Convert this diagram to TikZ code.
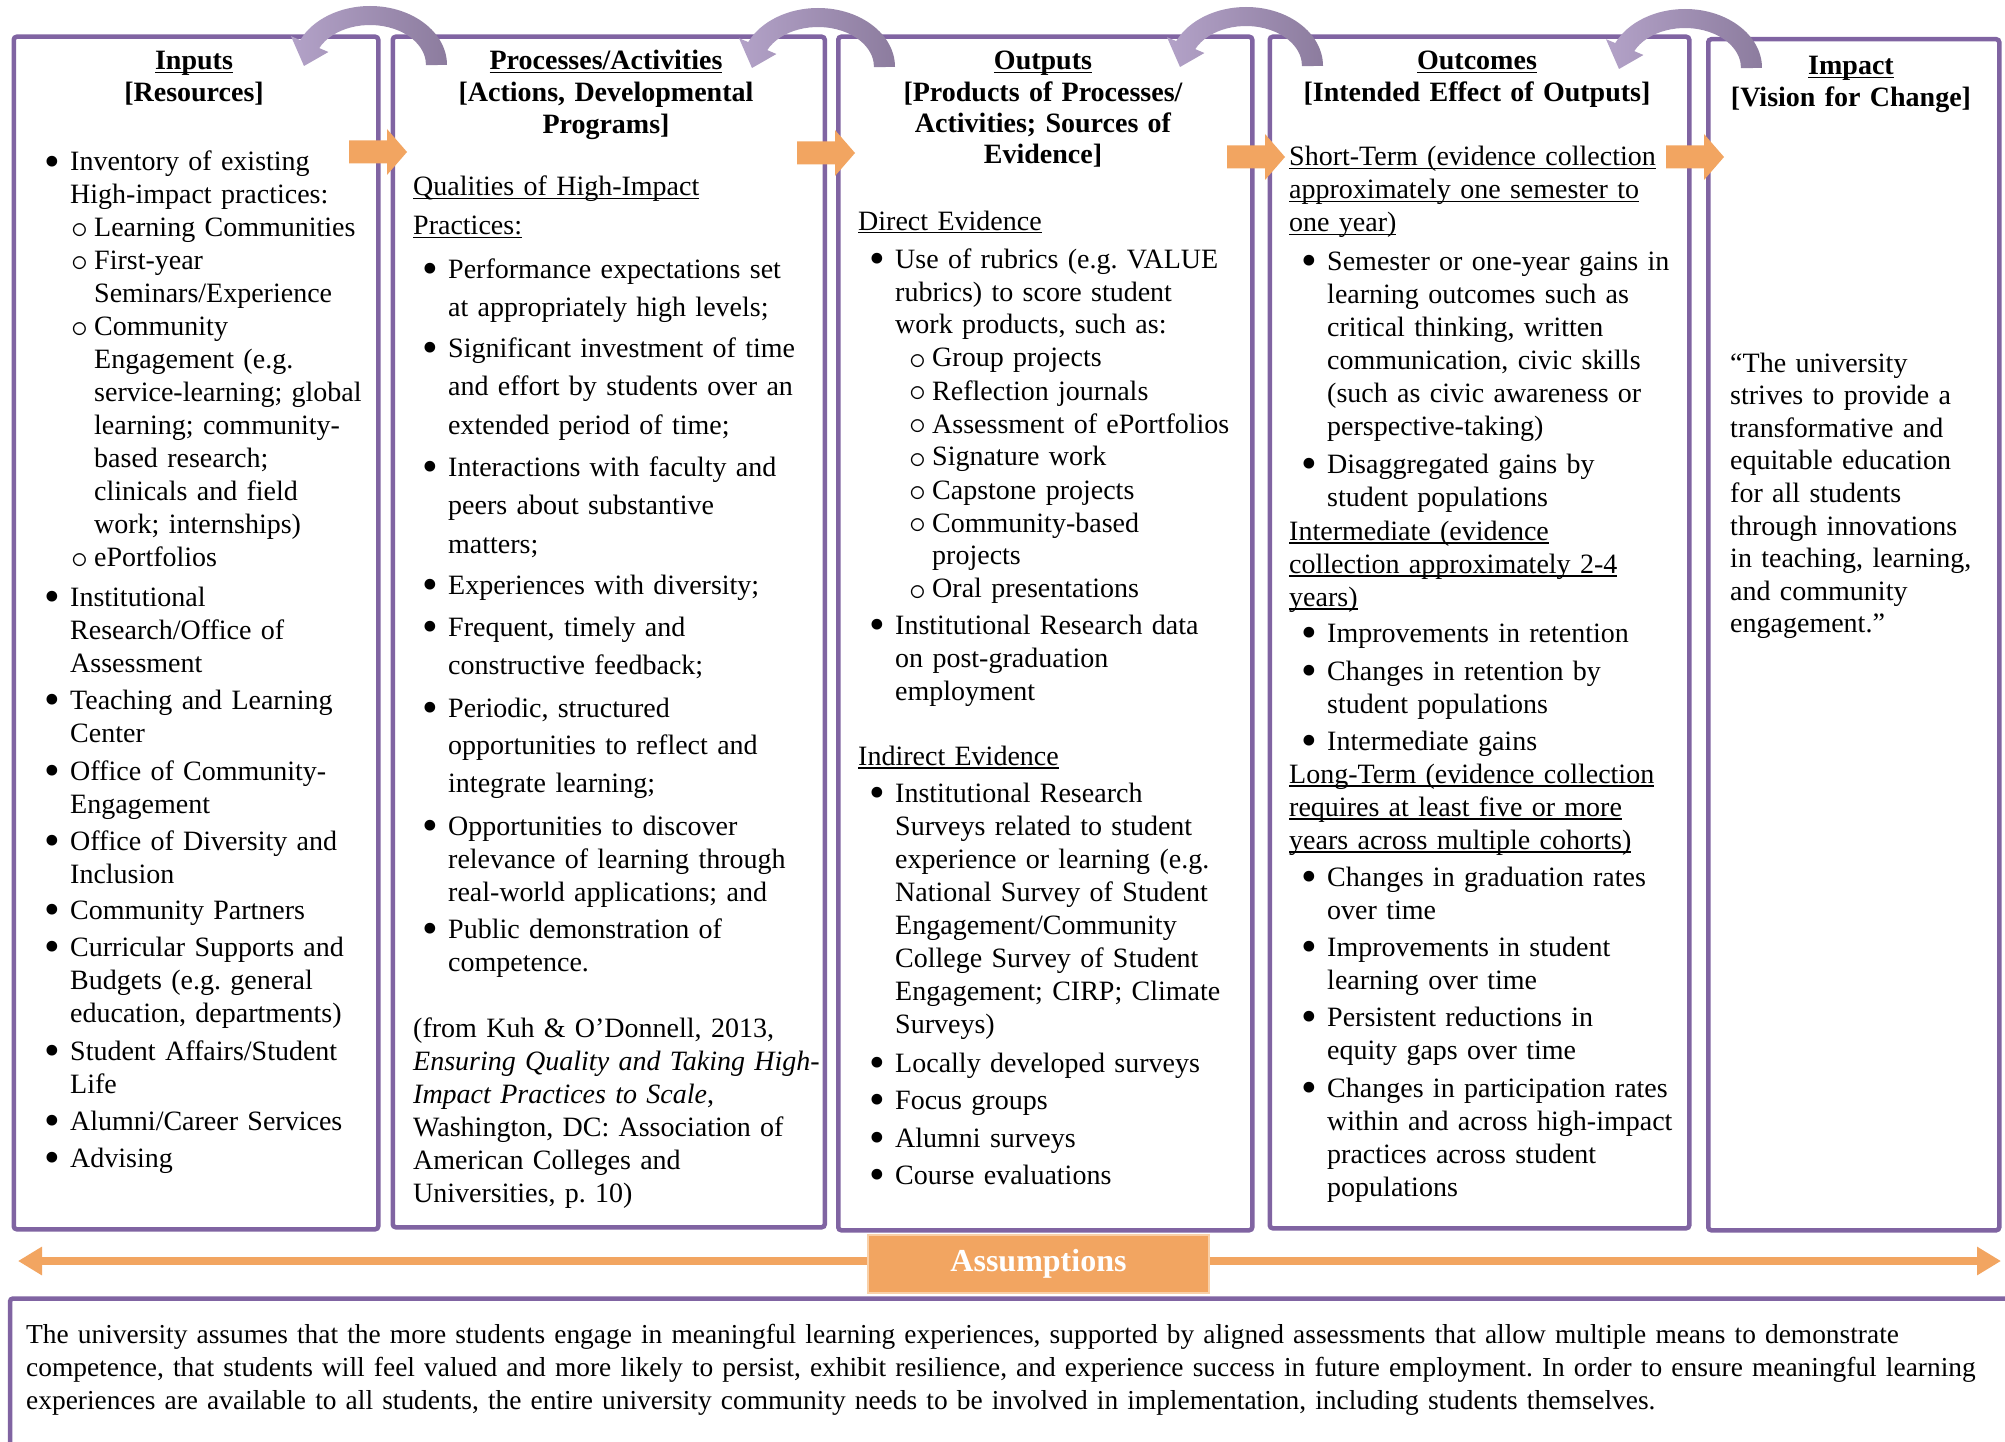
\documentclass[tikz,border=0pt]{standalone}
\usepackage{fontspec}
\setmainfont{Liberation Serif}
\usetikzlibrary{arrows.meta}
\definecolor{pur}{HTML}{8064A2}
\definecolor{orA}{HTML}{F2A561}
\definecolor{orL}{HTML}{F9D0A8}
\definecolor{pl}{HTML}{B3A2C8}
\definecolor{pd}{HTML}{8C7C9E}
\newcommand\ul[1]{\leavevmode\setbox0\hbox{#1}\rlap{\rule[-3.5pt]{\wd0}{1.3pt}}\box0}
\newcommand\bu{\leavevmode\llap{\makebox[26pt][l]{\smash{\raisebox{-5.5pt}{\scalebox{1.6}{\textbullet}}}}}}
\newcommand\sbu[1]{\leavevmode\hspace*{#1pt}\llap{\makebox[23pt][l]{\smash{\raisebox{-2pt}{\scalebox{1.35}{$\circ$}}}}}}
\newcommand\ci[1]{\leavevmode\hspace*{#1pt}}
\newcommand\barrow[2]{\fill[orA] (#1,#2-11.5) -- ++(38,0) -- ++(0,-11.5) -- (#1+58,#2) -- (#1+38,#2+23) -- ++(0,-11.5) -- (#1,#2+11.5) -- cycle;}
\newcommand\curvarrow[2]{%
\begin{scope}[shift={(#1,#2)}]
\shade[left color=pl, right color=pd] (77,0) arc[start angle=0,end angle=-155,x radius=77,y radius=59] -- (-79,-28.8) -- (-66,1) -- (-41.6,-13) -- (-50.75,-16.9) arc[start angle=-155,end angle=0,x radius=56,y radius=40] -- cycle;
\end{scope}}
\begin{document}
\frenchspacing
\begin{tikzpicture}[x=1pt,y=-1pt,
  pbox/.style={draw=pur, line width=4.5pt, rounded corners=3pt, anchor=north west, inner sep=0pt},
  txt/.style={anchor=base west, inner sep=0pt, text width=560pt, align=left, font=\fontsize{28}{33}\selectfont},
  ptxt/.style={txt, font=\fontsize{28}{38.6}\selectfont},
  hdr/.style={anchor=base, inner sep=0pt, text width=400pt, align=center, font=\fontsize{28}{32}\selectfont\bfseries}]
\useasboundingbox (0,0) rectangle (2005,1442);
\clip (0,0) rectangle (2005,1442);
\fill[white] (0,0) rectangle (2005,1442);

% boxes
\node[pbox, minimum width=364.5pt, minimum height=1192.5pt] (inputs) at (11.5,34.5) {};
\node[pbox, minimum width=432pt, minimum height=1190.5pt] (process) at (390.5,34.5) {};
\node[pbox, minimum width=414pt, minimum height=1193.5pt] (outputs) at (836,34.5) {};
\node[pbox, minimum width=419.5pt, minimum height=1191.5pt] (outcomes) at (1267.5,34.5) {};
\node[pbox, minimum width=291pt, minimum height=1191pt] (impact) at (1706,37) {};
\draw[pur, line width=4.5pt, rounded corners=3pt] (10,1470) -- (10,1298.5) -- (2040,1298.5);

% headers
\node[hdr] (h1) at (194,70) {\ul{Inputs}\\{}[Resources]};
\node[hdr] (h2) at (606,70) {\ul{Processes/Activities}\\{}[Actions, Developmental\\Programs]};
\node[hdr, font=\fontsize{28}{31.3}\selectfont\bfseries] (h3) at (1043,70) {\ul{Outputs}\\{}[Products of Processes/\\Activities; Sources of\\Evidence]};
\node[hdr] (h4) at (1477,70) {\ul{Outcomes}\\{}[Intended Effect of Outputs]};
\node[hdr] (h5) at (1851,75) {\ul{Impact}\\{}[Vision for Change]};

% inputs
\node[txt] (in1) at (70,171) {\bu Inventory of existing\\
High-impact practices:\\
\sbu{24}Learning Communities\\
\sbu{24}First-year\\
\ci{24}Seminars/Experience\\
\sbu{24}Community\\
\ci{24}Engagement (e.g.\\
\ci{24}service-learning; global\\
\ci{24}learning; community-\\
\ci{24}based research;\\
\ci{24}clinicals and field\\
\ci{24}work; internships)\\
\sbu{24}ePortfolios};
\node[txt] (in2) at (70,606) {\bu Institutional\\Research/Office of\\Assessment};
\node[txt] (in3) at (70,709) {\bu Teaching and Learning\\Center};
\node[txt] (in4) at (70,780) {\bu Office of Community-\\Engagement};
\node[txt] (in5) at (70,850) {\bu Office of Diversity and\\Inclusion};
\node[txt] (in6) at (70,919) {\bu Community Partners};
\node[txt] (in7) at (70,956) {\bu Curricular Supports and\\Budgets (e.g. general\\education, departments)};
\node[txt] (in8) at (70,1060) {\bu Student Affairs/Student\\Life};
\node[txt] (in9) at (70,1130) {\bu Alumni/Career Services};
\node[txt] (in10) at (70,1167) {\bu Advising};

% processes
\node[ptxt] (pq) at (413,196) {\ul{Qualities of High-Impact}\\\ul{Practices:}};
\node[ptxt] (pr1) at (448,278) {\bu Performance expectations set\\at appropriately high levels;};
\node[ptxt] (pr2) at (448,357) {\bu Significant investment of time\\and effort by students over an\\extended period of time;};
\node[ptxt] (pr3) at (448,476) {\bu Interactions with faculty and\\peers about substantive\\matters;};
\node[ptxt] (pr4) at (448,594) {\bu Experiences with diversity;};
\node[ptxt] (pr5) at (448,636) {\bu Frequent, timely and\\constructive feedback;};
\node[ptxt, font=\fontsize{28}{37.5}\selectfont] (pr6) at (448,717) {\bu Periodic, structured\\opportunities to reflect and\\integrate learning;};
\node[txt] (pr7) at (448,835) {\bu Opportunities to discover\\relevance of learning through\\real-world applications; and};
\node[txt] (pr8) at (448,938) {\bu Public demonstration of\\competence.};
\node[txt] (cite) at (413,1037) {(from Kuh \& O’Donnell, 2013,\\\textit{Ensuring Quality and Taking High-}\\\textit{Impact Practices to Scale},\\Washington, DC: Association of\\American Colleges and\\Universities, p. 10)};

% outputs
\node[txt] (od) at (858,230) {\ul{Direct Evidence}};
\node[txt] (o1) at (895,268) {\bu Use of rubrics (e.g. VALUE\\rubrics) to score student\\work products, such as:\\
\sbu{37}Group projects\\
\sbu{37}Reflection journals\\
\sbu{37}Assessment of ePortfolios\\
\sbu{37}Signature work\\
\sbu{37}Capstone projects\\
\sbu{37}Community-based\\
\ci{37}projects\\
\sbu{37}Oral presentations};
\node[txt] (o2) at (895,634) {\bu Institutional Research data\\on post-graduation\\employment};
\node[txt] (oi) at (858,765) {\ul{Indirect Evidence}};
\node[txt] (o3) at (895,802) {\bu Institutional Research\\Surveys related to student\\experience or learning (e.g.\\National Survey of Student\\Engagement/Community\\College Survey of Student\\Engagement; CIRP; Climate\\Surveys)};
\node[txt] (o4) at (895,1072) {\bu Locally developed surveys};
\node[txt] (o5) at (895,1109) {\bu Focus groups};
\node[txt] (o6) at (895,1147) {\bu Alumni surveys};
\node[txt] (o7) at (895,1184) {\bu Course evaluations};

% outcomes
\node[txt] (os) at (1289,166) {\ul{Short-Term (evidence collection}\\\ul{approximately one semester to}\\\ul{one year)}};
\node[txt] (oc1) at (1327,270) {\bu Semester or one-year gains in\\learning outcomes such as\\critical thinking, written\\communication, civic skills\\(such as civic awareness or\\perspective-taking)};
\node[txt] (oc2) at (1327,473) {\bu Disaggregated gains by\\student populations};
\node[txt] (om) at (1289,540) {\ul{Intermediate (evidence}\\\ul{collection approximately 2-4}\\\ul{years)}};
\node[txt] (oc3) at (1327,642) {\bu Improvements in retention};
\node[txt] (oc4) at (1327,680) {\bu Changes in retention by\\student populations};
\node[txt] (oc5) at (1327,750) {\bu Intermediate gains};
\node[txt] (ol) at (1289,783) {\ul{Long-Term (evidence collection}\\\ul{requires at least five or more}\\\ul{years across multiple cohorts)}};
\node[txt] (oc6) at (1327,886) {\bu Changes in graduation rates\\over time};
\node[txt] (oc7) at (1327,956) {\bu Improvements in student\\learning over time};
\node[txt] (oc8) at (1327,1026) {\bu Persistent reductions in\\equity gaps over time};
\node[txt] (oc9) at (1327,1097) {\bu Changes in participation rates\\within and across high-impact\\practices across student\\populations};

% impact
\node[txt, font=\fontsize{28}{32.6}\selectfont] (quote) at (1730,372) {“The university\\strives to provide a\\transformative and\\equitable education\\for all students\\through innovations\\in teaching, learning,\\and community\\engagement.”};

% assumptions
\coordinate (Lend) at (18,1261);
\coordinate (Rend) at (2001,1261);
\node[fill=orA, draw=orL, line width=1.5pt, minimum width=341pt, minimum height=58pt, inner sep=0pt, text=white, font=\fontsize{32}{36}\selectfont\bfseries] (assump) at (1038.5,1264) {Assumptions};
\draw[orA, line width=8pt, -{Triangle[length=24pt,width=27pt]}] (assump.west |- Lend) -- (Lend);
\draw[orA, line width=8pt, -{Triangle[length=24pt,width=27pt]}] (assump.east |- Rend) -- (Rend);

\node[txt, text width=2000pt, font=\fontsize{27.4}{33}\selectfont] (atext) at (26,1343) {The university assumes that the more students engage in meaningful learning experiences, supported by aligned assessments that allow multiple means to demonstrate\\
competence, that students will feel valued and more likely to persist, exhibit resilience, and experience success in future employment. In order to ensure meaningful learning\\
experiences are available to all students, the entire university community needs to be involved in implementation, including students themselves.};

% block arrows
\barrow{349}{152}
\barrow{797}{153}
\barrow{1227}{157}
\barrow{1666}{157}

% curved arrows
\curvarrow{370}{65}
\curvarrow{818}{67}
\curvarrow{1246}{66}
\curvarrow{1685}{68}
\end{tikzpicture}
\end{document}
